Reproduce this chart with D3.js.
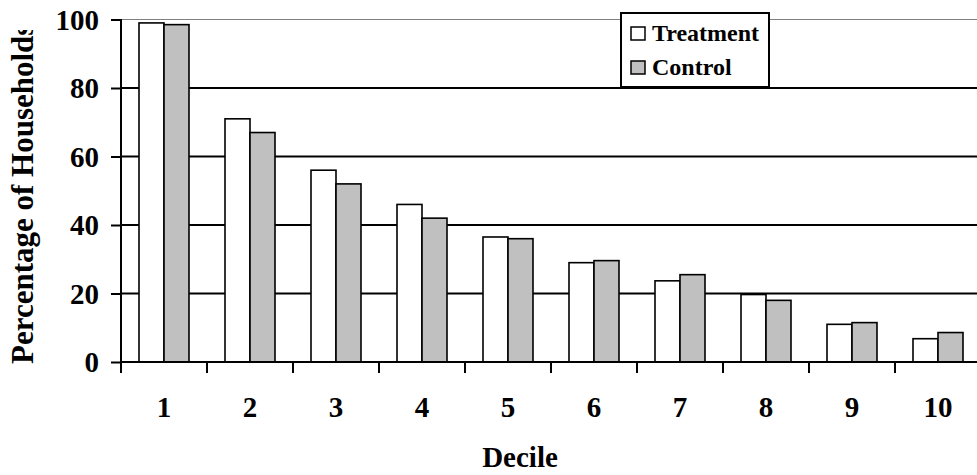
<html>
<head>
  <meta charset="utf-8" />
<style>
  html, body { margin: 0; padding: 0; background: #fff; }
  svg { display: block; }
  text { font-family: "Liberation Serif", Tinos, "Times New Roman", "DejaVu Serif", serif; font-weight: bold; fill: #000; }
</style>
</head>
<body>
  <div id="graph"></div>
<script src="https://cdnjs.cloudflare.com/ajax/libs/d3/7.8.5/d3.min.js"></script>
<script>

// data
var deciles = ["1", "2", "3", "4", "5", "6", "7", "8", "9", "10"];
var seriesNames = ["Treatment", "Control"];
var treatment = [99, 71, 56, 46, 36.5, 29, 23.7, 19.7, 11, 6.8];
var control = [98.5, 67, 52, 42, 36, 29.6, 25.5, 18, 11.5, 8.6];
var yTicks = [0, 20, 40, 60, 80, 100];
var colors = ["#ffffff", "#c0c0c0"];

var width = 977, height = 475;
var margin = {top: 19.5, left: 121, bottom: 113, right: -4};
var serif = '"Liberation Serif", Tinos, "Times New Roman", "DejaVu Serif", serif';

var svg = d3.select("#graph").append("svg")
    .attr("width", width)
    .attr("height", height);

var x = d3.scaleBand()
    .domain(deciles)
    .range([margin.left, width - margin.right])
    .paddingInner(36 / 86)
    .paddingOuter(18 / 86);

var xs = d3.scaleBand()
    .domain(seriesNames)
    .range([0, x.bandwidth()]);

var y = d3.scaleLinear()
    .domain([0, 100])
    .range([height - margin.bottom, margin.top]);

var rows = deciles.map(function(d, i) {
  return {decile: d, values: [
    {name: "Treatment", value: treatment[i]},
    {name: "Control", value: control[i]}
  ]};
});

// top border of the plot area
svg.append("line")
    .attr("x1", margin.left).attr("x2", width)
    .attr("y1", y(100)).attr("y2", y(100))
    .attr("stroke", "#808080").attr("stroke-width", 1);

// gridlines
svg.append("g").selectAll("line")
    .data(yTicks.filter(function(t) { return t > 0 && t < 100; }))
    .enter().append("line")
    .attr("x1", margin.left).attr("x2", width)
    .attr("y1", function(d) { return y(d); })
    .attr("y2", function(d) { return y(d); })
    .attr("stroke", "#000").attr("stroke-width", 1.8);

// bars
var group = svg.append("g").selectAll("g")
    .data(rows)
    .enter().append("g")
    .attr("transform", function(d) { return "translate(" + x(d.decile) + ",0)"; });

group.selectAll("rect")
    .data(function(d) { return d.values; })
    .enter().append("rect")
    .attr("x", function(d) { return xs(d.name); })
    .attr("width", xs.bandwidth())
    .attr("y", function(d) { return y(d.value); })
    .attr("height", function(d) { return y(0) - y(d.value); })
    .attr("fill", function(d, i) { return colors[i]; })
    .attr("stroke", "#000")
    .attr("stroke-width", 1.6);

// x axis line
svg.append("line")
    .attr("x1", margin.left).attr("x2", width)
    .attr("y1", y(0)).attr("y2", y(0))
    .attr("stroke", "#000").attr("stroke-width", 2);

// category tick marks sit between the groups
var step = x.step();
svg.append("g").selectAll("line")
    .data(deciles)
    .enter().append("line")
    .attr("x1", function(d) { return x(d) + x.bandwidth() / 2 - step / 2; })
    .attr("x2", function(d) { return x(d) + x.bandwidth() / 2 - step / 2; })
    .attr("y1", y(0)).attr("y2", y(0) + 11)
    .attr("stroke", "#000").attr("stroke-width", 2);

var xAxis = svg.append("g")
    .attr("transform", "translate(0," + y(0) + ")")
    .call(d3.axisBottom(x).tickSize(0).tickPadding(55));
xAxis.attr("font-family", serif);
xAxis.select(".domain").remove();
xAxis.selectAll("text")
    .attr("font-weight", "bold")
    .attr("font-size", 29)
    .attr("dy", "0");

// y axis
var yAxis = svg.append("g")
    .attr("transform", "translate(" + margin.left + ",0)")
    .call(d3.axisLeft(y).tickValues(yTicks).tickSize(10).tickPadding(12));
yAxis.attr("font-family", serif);
yAxis.select(".domain").remove();
yAxis.selectAll("line").attr("stroke-width", 2);
yAxis.selectAll("text")
    .attr("font-weight", "bold")
    .attr("font-size", 29)
    .attr("dy", "0.34em");
svg.append("line")
    .attr("x1", margin.left).attr("x2", margin.left)
    .attr("y1", y(100) - 0.5).attr("y2", y(0) + 11)
    .attr("stroke", "#000").attr("stroke-width", 2);

// axis titles
svg.append("text")
    .attr("x", 520)
    .attr("y", 467)
    .attr("text-anchor", "middle")
    .attr("font-size", 29)
    .text("Decile");

svg.append("clipPath").attr("id", "ytitleclip")
  .append("rect").attr("x", 0).attr("y", 30).attr("width", 60).attr("height", 360);

svg.append("g")
    .attr("clip-path", "url(#ytitleclip)")
  .append("text")
    .attr("transform", "translate(33,364) rotate(-90)")
    .attr("font-size", 31)
    .text("Percentage of Households");

// legend
var legend = svg.append("g").attr("transform", "translate(621,13)");
legend.append("rect")
    .attr("width", 148).attr("height", 74)
    .attr("fill", "#fff").attr("stroke", "#000").attr("stroke-width", 2);

var item = legend.selectAll("g.item")
    .data(seriesNames)
    .enter().append("g")
    .attr("class", "item")
    .attr("transform", function(d, i) { return "translate(10," + (14 + i * 34) + ")"; });
item.append("rect")
    .attr("width", 14).attr("height", 13)
    .attr("fill", function(d, i) { return colors[i]; })
    .attr("stroke", "#000").attr("stroke-width", 1.5);
item.append("text")
    .attr("x", 21).attr("y", 14)
    .attr("font-size", 24)
    .text(function(d) { return d; });

</script>
</body>
</html>
